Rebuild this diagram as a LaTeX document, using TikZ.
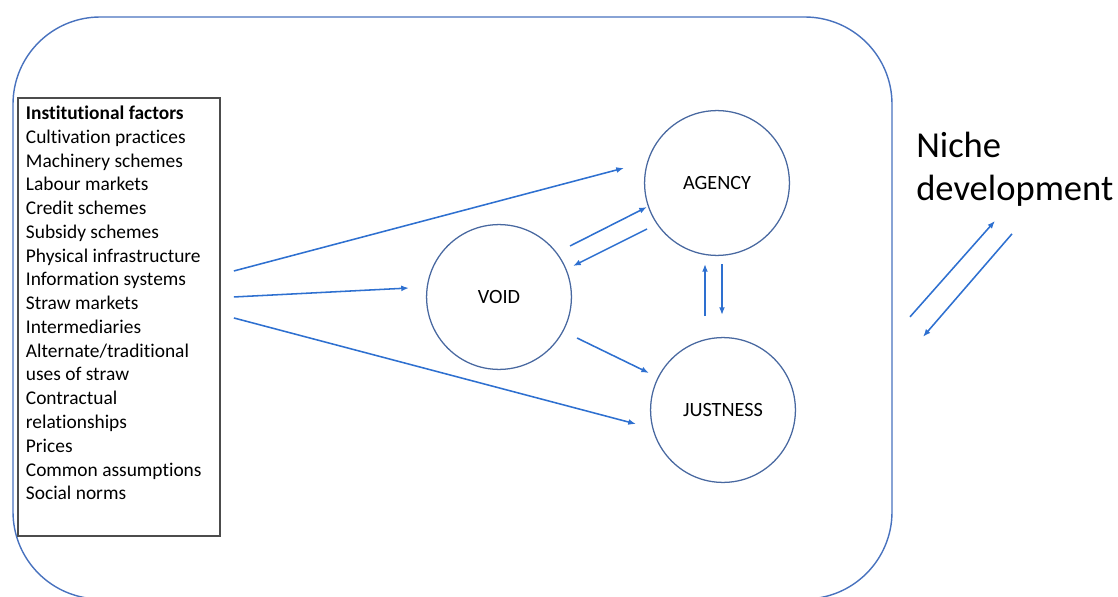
\documentclass[tikz,border=0pt]{standalone}
\usepackage{fontspec}
\setmainfont{Carlito}[Ligatures=NoCommon]
\usetikzlibrary{arrows.meta,calc}
\definecolor{rimblue}{RGB}{72,114,190}
\definecolor{ringblue}{RGB}{72,104,160}
\definecolor{arrowblue}{RGB}{46,112,208}
\begin{document}
\begin{tikzpicture}[x=0.025cm, y=-0.025cm,
    ring/.style={circle, draw=ringblue, line width=0.9pt, minimum size=3.62cm, inner sep=0pt, font=\fontsize{14.4}{17}\selectfont},
    flow/.style={draw=arrowblue, line width=1.1pt, -{Latex[length=5.5pt,width=4.2pt]}}]
    \useasboundingbox (0,0) rectangle (1118,597);
    \draw[color=rimblue, line width=1pt, rounded corners=2.18cm] (13,17) rectangle (892,599);
    \node[draw=black!70, line width=1.3pt, anchor=north west, inner sep=0.2cm, font=\fontsize{13.8}{16.9}\selectfont] (factors) at (17,97) {\begin{minipage}[t][10.55cm][t]{4.65cm}
        \textbf{Institutional factors}\\
        Cultivation practices\\
        Machinery schemes\\
        Labour markets\\
        Credit schemes\\
        Subsidy schemes\\
        Physical infrastructure\\
        Information systems\\
        Straw markets\\
        Intermediaries\\
        Alternate/traditional\\
        uses of straw\\
        Contractual\\
        relationships\\
        Prices\\
        Common assumptions\\
        Social norms
    \end{minipage}};
    \node[ring] (agency) at (717,183) {AGENCY};
    \node[ring] (void) at (499,297) {VOID};
    \node[ring] (justness) at (723,410) {JUSTNESS};
    \node[anchor=north west, inner sep=0pt, align=left, font=\fontsize{26}{30.6}\selectfont] (niche) at (916,132) {Niche\\development};
    \draw[flow] ($(factors.east)+(13,-46)$) -- ($(agency)+(-93,-15)$);
    \draw[flow] ($(factors.east)+(13,-20)$) -- ($(void)+(-90,-9)$);
    \draw[flow] ($(factors.east)+(13,1)$) -- ($(justness)+(-87,14)$);
    \draw[flow] ($(void)+(71,-51)$) -- ($(agency)+(-70,24)$);
    \draw[flow] ($(agency)+(-70,46)$) -- ($(void)+(74,-31)$);
    \draw[flow] ($(justness)+(-18,-94)$) -- ($(agency)+(-12,81)$);
    \draw[flow] ($(agency)+(5,81)$) -- ($(justness)+(-1,-95)$);
    \draw[flow] ($(void)+(78,41)$) -- ($(justness)+(-74,-37)$);
    \draw[flow] ($(niche.south west)+(-6,110)$) -- ($(niche.south west)+(79,14)$);
    \draw[flow] ($(niche.south west)+(96,27)$) -- ($(niche.south west)+(7,130)$);
\end{tikzpicture}
\end{document}
